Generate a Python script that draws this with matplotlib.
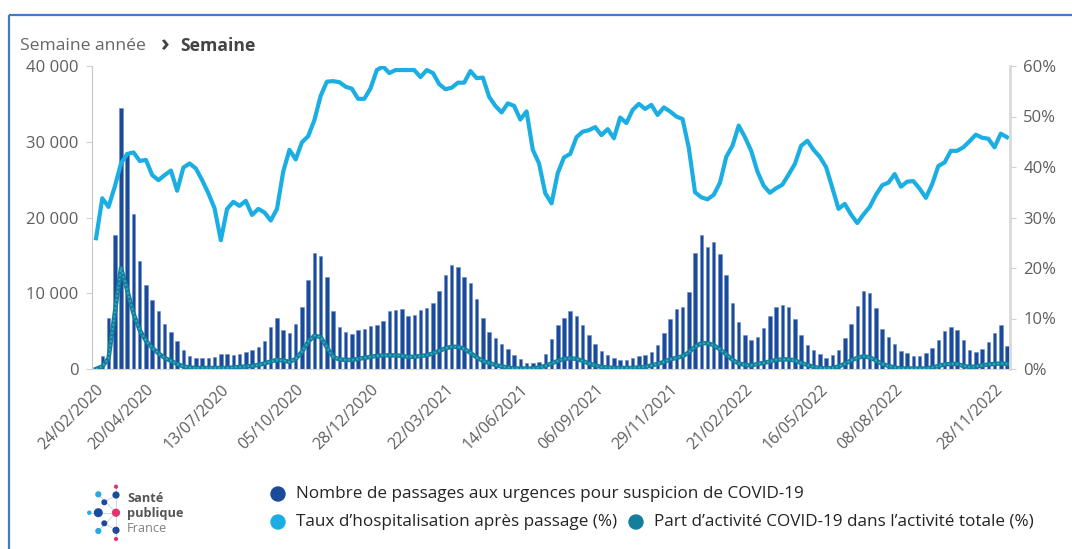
import numpy as np
import pandas as pd
import matplotlib
matplotlib.use("Agg")
import matplotlib.pyplot as plt
from matplotlib.patches import Circle
from matplotlib.ticker import FuncFormatter

plt.rcParams['font.family'] = ['Open Sans', 'DejaVu Sans']

W, H = 1072, 549

# semaines (lundi de chaque semaine)
weeks = pd.date_range("2020-02-24", periods=147, freq="7D")

# nombre de passages aux urgences pour suspicion de COVID-19
passages = [
    200, 1760, 6700, 17750, 34450, 28400, 20400, 14200, 11100, 9100,
    7600, 5900, 4850, 3700, 2550, 1760, 1400, 1400, 1400, 1540,
    2000, 1950, 1900, 2000, 2200, 2550, 2860, 3650, 5500, 6750,
    5100, 4700, 5900, 8150, 11770, 15280, 14950, 12190, 7700, 5590,
    4930, 4680, 5200, 5330, 5640, 5770, 6390, 7620, 7800, 7930,
    7050, 7180, 7800, 8100, 8720, 10260, 12470, 13790, 13440, 12110,
    11370, 9200, 6780, 4930, 4050, 3300, 2690, 1800, 1280, 840,
    840, 970, 1980, 3920, 5770, 6780, 7670, 7050, 5770, 4540,
    3260, 2380, 1850, 1500, 1230, 1230, 1410, 1670, 1800, 2290,
    3130, 4710, 6560, 7930, 8250, 10100, 15250, 17750, 16050, 16750,
    15150, 12430, 8720, 6160, 4430, 3800, 4160, 5400, 6990, 8190,
    8500, 8230, 6550, 4470, 3190, 2570, 2040, 1460, 1860, 2570,
    4070, 5970, 8320, 10310, 10090, 8100, 5310, 4200, 3270, 2430,
    2120, 1770, 1770, 2120, 2790, 3890, 4960, 5530, 5090, 3800,
    2570, 2300, 2700, 3630, 4780, 5750, 3100,
]

# taux d'hospitalisation après passage (%)
taux_hospit = [
    25.9, 33.8, 32.1, 36.1, 40.7, 42.6, 42.9, 41.2, 41.4, 38.4,
    37.4, 38.4, 39.3, 35.3, 39.9, 40.7, 39.7, 37.4, 34.8, 31.8,
    25.5, 31.7, 33.1, 32.3, 33.3, 30.5, 31.7, 31.0, 29.4, 31.7,
    39.1, 43.4, 41.5, 44.9, 46.1, 49.3, 54.1, 56.9, 57.0, 56.8,
    55.9, 55.5, 53.5, 53.5, 55.6, 59.2, 59.9, 58.6, 59.2, 59.2,
    59.2, 59.2, 57.8, 59.2, 58.6, 56.4, 55.4, 55.7, 56.7, 56.7,
    59.0, 57.6, 57.7, 53.9, 52.1, 50.8, 52.6, 52.1, 49.4, 51.0,
    43.4, 40.7, 34.8, 32.8, 38.8, 41.9, 42.6, 45.9, 47.0, 47.3,
    47.9, 46.3, 47.5, 45.7, 49.8, 48.7, 51.3, 52.5, 51.5, 52.3,
    50.3, 51.8, 51.0, 50.0, 49.5, 43.8, 35.0, 34.0, 33.6, 34.5,
    36.9, 42.0, 44.2, 48.2, 45.9, 43.2, 39.1, 36.3, 34.9, 35.8,
    36.5, 38.5, 40.6, 44.2, 45.2, 43.4, 42.0, 40.0, 35.9, 31.7,
    32.7, 30.6, 28.9, 30.6, 32.1, 34.5, 36.4, 36.9, 38.6, 36.1,
    37.1, 37.2, 35.7, 33.9, 36.6, 40.2, 40.9, 43.2, 43.2, 43.9,
    45.1, 46.4, 45.8, 45.6, 43.9, 46.6, 45.9,
]

# part d'activité COVID-19 dans l'activité totale (%)
part_activite = [
    0.0, 0.5, 2.1, 11.0, 20.0, 15.6, 11.0, 7.7, 5.6, 4.2,
    3.1, 2.2, 1.6, 1.0, 0.5, 0.3, 0.2, 0.2, 0.2, 0.2,
    0.2, 0.2, 0.3, 0.4, 0.5, 0.6, 0.8, 1.1, 1.5, 1.8,
    1.7, 1.4, 2.0, 3.4, 5.4, 6.6, 6.3, 4.3, 2.4, 1.9,
    1.8, 1.8, 2.0, 2.2, 2.4, 2.6, 2.7, 2.7, 2.7, 2.6,
    2.4, 2.4, 2.6, 2.7, 3.1, 3.6, 4.1, 4.4, 4.4, 4.0,
    3.2, 2.3, 1.6, 1.2, 0.8, 0.5, 0.3, 0.1, 0.1, 0.1,
    0.1, 0.3, 0.6, 1.1, 1.6, 2.0, 2.1, 2.0, 1.6, 1.1,
    0.7, 0.4, 0.3, 0.2, 0.2, 0.2, 0.2, 0.3, 0.4, 0.7,
    1.0, 1.4, 1.9, 2.2, 2.5, 3.3, 4.4, 5.1, 5.1, 4.7,
    3.9, 2.9, 1.8, 1.1, 0.8, 0.7, 1.0, 1.2, 1.5, 1.8,
    1.9, 1.9, 1.7, 1.2, 0.8, 0.4, 0.2, 0.1, 0.2, 0.5,
    1.0, 1.7, 2.2, 2.5, 2.3, 1.7, 1.0, 0.6, 0.3, 0.1,
    0.1, 0.1, 0.1, 0.1, 0.3, 0.6, 0.9, 1.0, 1.0, 0.6,
    0.4, 0.5, 0.7, 0.9, 1.0, 1.1, 1.0,
]

tick_labels = ["24/02/2020", "20/04/2020", "13/07/2020", "05/10/2020",
               "28/12/2020", "22/03/2021", "14/06/2021", "06/09/2021",
               "29/11/2021", "21/02/2022", "16/05/2022", "08/08/2022",
               "28/11/2022"]

legend_labels = ["Nombre de passages aux urgences pour suspicion de COVID-19",
                 "Taux d\u2019hospitalisation après passage (%)",
                 "Part d\u2019activité COVID-19 dans l\u2019activité totale (%)"]

c_bar = "#1b4a9a"
c_taux = "#1aaee3"
c_part = "#137f9c"
c_text = "#605e5c"

x = np.arange(len(weeks))
tick_pos = [weeks.get_loc(pd.to_datetime(t, dayfirst=True)) for t in tick_labels]

fig = plt.figure(figsize=(W / 100, H / 100), dpi=100)

# overlay in pixel coordinates for frame, logo and legend
ov = fig.add_axes([0, 0, 1, 1], zorder=-1)
ov.set_xlim(0, W)
ov.set_ylim(H, 0)
ov.axis("off")

left_px, right_px, top_px, bot_px = 92.3, 1009.5, 66, 369
ax = fig.add_axes([left_px / W, 1 - bot_px / H,
                   (right_px - left_px) / W, (bot_px - top_px) / H])
ax.bar(x, passages, width=0.56, color=c_bar, edgecolor="#6a8cc6", linewidth=0.4)
ax.set_xlim(-0.6, 146.4)
ax.set_ylim(0, 40000)
ax.set_yticks([0, 10000, 20000, 30000, 40000])
ax.yaxis.set_major_formatter(FuncFormatter(lambda v, p: f"{int(v):,}".replace(",", " ")))
ax.set_xticks(tick_pos)
ax.set_xticklabels(tick_labels, rotation=45, ha="right", va="top",
                   rotation_mode="anchor")
ax.tick_params(axis="y", labelsize=12, labelcolor=c_text, color="#d0d0d0",
               length=4, pad=6)
ax.tick_params(axis="x", labelsize=11.5, labelcolor=c_text, length=0, pad=9)
for s in ["top", "right"]:
    ax.spines[s].set_visible(False)
ax.spines["left"].set_color("#c8c8c8")
ax.spines["bottom"].set_color("#d6d6d6")

ax2 = ax.twinx()
ax2.plot(x, np.array(taux_hospit) / 100, color=c_taux, lw=3, solid_joinstyle="round")
ax2.plot(x, np.array(part_activite) / 100, color=c_part, lw=3.2, solid_joinstyle="round")
ax2.plot(x, np.array(part_activite) / 100, color="#3fb0c2", lw=1.2,
         linestyle=(0, (1, 1.5)))
ax2.set_ylim(0, 0.6)
ax2.set_yticks(np.arange(0, 0.61, 0.1))
ax2.yaxis.set_major_formatter(FuncFormatter(lambda v, p: f"{round(v * 100)}%"))
ax2.tick_params(axis="y", labelsize=12, labelcolor=c_text, color="#d0d0d0",
                length=4, pad=6)
for s in ["top", "left", "bottom"]:
    ax2.spines[s].set_visible(False)
ax2.spines["right"].set_color("#d9d9d9")
ax2.spines["right"].set_linewidth(2)

# frame
ov.plot([8.5, W], [14.5, 14.5], color="#3d7cc6", lw=1.6, solid_capstyle="butt")
ov.plot([8.5, 8.5], [14.5, H], color="#3d7cc6", lw=1.6, solid_capstyle="butt")

# breadcrumb title
ov.text(20, 46, "Semaine année", fontsize=12.6, color="#666666", va="center")
ov.text(160, 45, "\u203a", fontsize=17, fontweight="bold", color="#444444", va="center")
ov.text(180, 46, "Semaine", fontsize=12.6, fontweight="bold", color="#444444", va="center")

# logo Santé publique France
pink, light, dark = "#e5316f", "#2aa9e0", "#1b4a9a"
for (x0, y0), (x1, y1) in [((116, 486), (116, 539)), ((89, 512.7), (116, 512.7)),
                           ((98.3, 494.3), (116, 512.7)), ((98.3, 531), (116, 512.7)),
                           ((104.3, 502.3), (116, 495)), ((104.3, 523.3), (116, 530.3))]:
    ov.plot([x0, x1], [y0, y1], color="#c9ced6", lw=0.6, zorder=1)
logo_dots = [(116, 486.7, 1.4, pink), (98.3, 494.3, 2.4, light), (116, 495, 2.9, dark),
             (104.3, 502.3, 2.3, dark), (89.3, 512.7, 1.5, light), (98.3, 512.7, 3.8, dark),
             (116, 512.7, 3.4, pink), (104.3, 523.3, 2.3, dark), (98.3, 531, 2.4, light),
             (116, 530.3, 2.9, dark), (116, 539, 1.4, pink)]
for cx, cy, r, c in logo_dots:
    ov.add_patch(Circle((cx, cy), r, color=c, zorder=2))
ov.text(127, 499, "Santé", fontsize=9.2, fontweight="bold", color="#555555", va="center")
ov.text(127, 513.5, "publique", fontsize=9.2, fontweight="bold", color="#555555", va="center")
ov.text(127, 528, "France", fontsize=9.2, color="#808080", va="center")

# legend
legend_items = [(278, 494, c_bar), (278, 522, c_taux), (636, 522, c_part)]
for (cx, cy, c), lab in zip(legend_items, legend_labels):
    ov.add_patch(Circle((cx, cy), 7, color=c))
    ov.text(cx + 18, cy, lab, fontsize=12.3, color="#252423", va="center")

fig.savefig("out.png", dpi=100)
